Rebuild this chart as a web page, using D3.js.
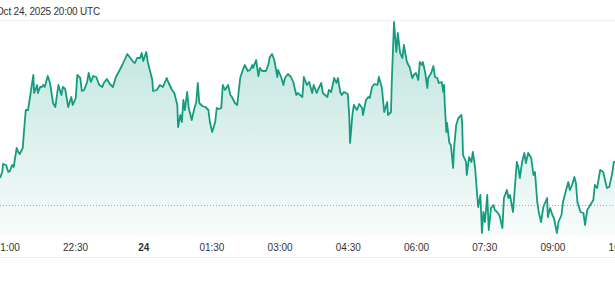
<!DOCTYPE html>
<html>
<head>
<meta charset="utf-8">
<script src="https://cdn.jsdelivr.net/npm/d3@7"></script>
<style>
  html, body { margin: 0; padding: 0; background: #fff; overflow: hidden; }
  svg { display: block; font-family: "Liberation Sans", Arial, sans-serif; }
  .tick text { fill: #333; font-size: 10px; }
</style>
</head>
<body>
<div id="chart"></div>
<script>
// minutes since 2025-10-23 20:51 UTC
var minutes = [0,3,4,8,11,13,16,18,22,24,26,30,32,34,37,40,44,45,49,50,53,55,57,59,63,66,70,73,77,81,83,86,90,94,96,100,102,106,108,111,115,117,120,123,127,131,135,137,141,145,149,153,158,162,168,172,176,178,181,185,187,189,193,195,201,202,207,211,215,220,222,227,230,234,235,238,240,242,244,247,249,253,256,259,261,263,267,271,275,277,280,284,286,289,292,294,297,301,304,306,310,313,317,319,323,327,330,333,334,338,341,343,346,351,354,356,359,362,366,367,371,374,376,380,384,387,391,393,399,401,405,408,412,414,418,420,424,426,432,434,437,441,444,446,449,451,454,459,461,462,465,467,471,474,478,479,483,486,488,491,494,498,500,504,507,511,512,516,517,520,523,525,528,531,533,537,541,544,546,549,552,554,557,558,561,564,565,569,572,574,577,579,583,585,586,587,589,590,593,595,598,599,602,605,609,610,611,615,616,619,622,624,627,630,631,634,636,638,640,643,645,648,651,653,656,659,663,665,669,671,673,677,680,682,684,686,689,692,694,697,701,704,706,709,711,714,717,722,723,726,729,731,735,737,741,743,747,750,752,755,758,760,762,766,770,772,775,779,783,785,788,792,796,799,801,804,808,810,812];

var prices = [109420,109480,109560,109550,109480,109490,109550,109530,109720,109680,109660,109720,109920,110100,110100,110250,110450,110270,110350,110270,110330,110330,110350,110330,110440,110370,110170,110130,110350,110250,110330,110310,110130,110230,110150,110220,110450,110420,110290,110300,110380,110470,110380,110440,110430,110350,110330,110370,110410,110360,110330,110430,110500,110560,110660,110620,110580,110570,110620,110620,110670,110590,110680,110580,110400,110290,110300,110350,110330,110420,110380,110300,110270,110150,109930,110050,109980,110200,110100,110280,110120,110000,110100,110180,110370,110170,110140,110130,110100,109980,109880,109980,110120,110110,110120,110350,110300,110350,110250,110230,110170,110150,110420,110470,110550,110490,110500,110550,110520,110600,110440,110520,110490,110490,110550,110630,110660,110600,110430,110500,110430,110350,110420,110460,110430,110380,110250,110270,110230,110430,110350,110380,110270,110350,110270,110310,110370,110270,110230,110300,110280,110420,110370,110420,110280,110250,110280,110260,110020,109770,110050,110150,110100,110160,110120,110050,110200,110230,110220,110330,110360,110350,110430,110320,110080,110180,110050,110080,110380,110980,110680,110870,110670,110620,110750,110580,110520,110420,110450,110470,110400,110580,110550,110580,110480,110320,110420,110470,110540,110430,110420,110370,110380,110280,110350,110150,109880,109970,109770,109750,109520,109700,109950,110020,110050,109950,109650,109580,109450,109630,109580,109680,109520,109220,109130,109250,108870,109080,108980,109250,108900,109120,109150,109100,109080,109050,108920,109220,109300,109220,109250,109080,109380,109580,109530,109420,109580,109670,109570,109670,109620,109450,109480,109180,109080,108980,109130,109220,109030,109120,109050,109020,108870,108980,109050,109180,109300,109380,109300,109350,109430,109370,109180,109080,109070,108950,109100,109150,109200,109350,109320,109500,109480,109380,109320,109330,109470,109580,109580];

var refPrice = 109145;
var headerText = "Oct 24, 2025 20:00 UTC";
// axis ticks: minutes since 20:51 and their labels
var tickMinutes = [9, 99, 189, 279, 369, 459, 549, 639, 729, 819];
var tickLabels = ["21:00", "22:30", "24", "01:30", "03:00", "04:30", "06:00", "07:30", "09:00", "10:30"];

var width = 615, height = 303;
var lineColor = "#139c80";
var start = Date.UTC(2025, 9, 23, 20, 51);
function toDate(m) { return new Date(start + m * 60000); }

var data = minutes.map(function(m, i) { return {t: toDate(m), p: prices[i]}; });

var x = d3.scaleUtc()
  .domain([toDate(0), toDate(811.6)])
  .range([0, width]);

var y = d3.scaleLinear()
  .domain([108800, 111000])
  .range([240, 20]);

var svg = d3.select('#chart').append('svg')
  .attr('width', width)
  .attr('height', height);

var defs = svg.append('defs');
var grad = defs.append('linearGradient')
  .attr('id', 'areaGrad')
  .attr('gradientUnits', 'userSpaceOnUse')
  .attr('x1', 0).attr('x2', 0)
  .attr('y1', y(110980)).attr('y2', 236);
grad.append('stop').attr('offset', 0).attr('stop-color', lineColor).attr('stop-opacity', 0.28);
grad.append('stop').attr('offset', 1).attr('stop-color', lineColor).attr('stop-opacity', 0.03);

// header (left edge is clipped in the original too)
svg.append('text')
  .attr('x', -4)
  .attr('y', 15)
  .attr('font-size', 10)
  .attr('letter-spacing', -0.2)
  .attr('fill', '#333')
  .text(headerText);

svg.append('line')
  .attr('x1', 0).attr('x2', width)
  .attr('y1', 20.5).attr('y2', 20.5)
  .attr('stroke', '#f0f0f0');

var area = d3.area()
  .x(function(d) { return x(d.t); })
  .y0(236)
  .y1(function(d) { return y(d.p); });

var line = d3.line()
  .x(function(d) { return x(d.t); })
  .y(function(d) { return y(d.p); });

svg.append('path')
  .datum(data)
  .attr('d', area)
  .attr('fill', 'url(#areaGrad)');

svg.append('line')
  .attr('x1', 0).attr('x2', width)
  .attr('y1', Math.round(y(refPrice)) + 0.5).attr('y2', Math.round(y(refPrice)) + 0.5)
  .attr('stroke', '#aaa')
  .attr('stroke-dasharray', '1,2');

svg.append('path')
  .datum(data)
  .attr('d', line)
  .attr('fill', 'none')
  .attr('stroke', lineColor)
  .attr('stroke-width', 1.8)
  .attr('stroke-linejoin', 'round');

// time axis
var axis = d3.axisBottom(x)
  .tickValues(tickMinutes.map(toDate))
  .tickSize(0)
  .tickPadding(0)
  .tickFormat(function(d, i) { return tickLabels[i]; });

var gx = svg.append('g')
  .attr('transform', 'translate(0,244)')
  .call(axis);
gx.select('.domain').remove();
gx.selectAll('.tick text')
  .attr('font-family', null)
  .attr('font-size', null)
  .style('font-weight', function(d, i) { return tickLabels[i] === '24' ? 'bold' : 'normal'; });

svg.append('line')
  .attr('x1', 0).attr('x2', width)
  .attr('y1', 257.5).attr('y2', 257.5)
  .attr('stroke', '#eee');
</script>
</body>
</html>
